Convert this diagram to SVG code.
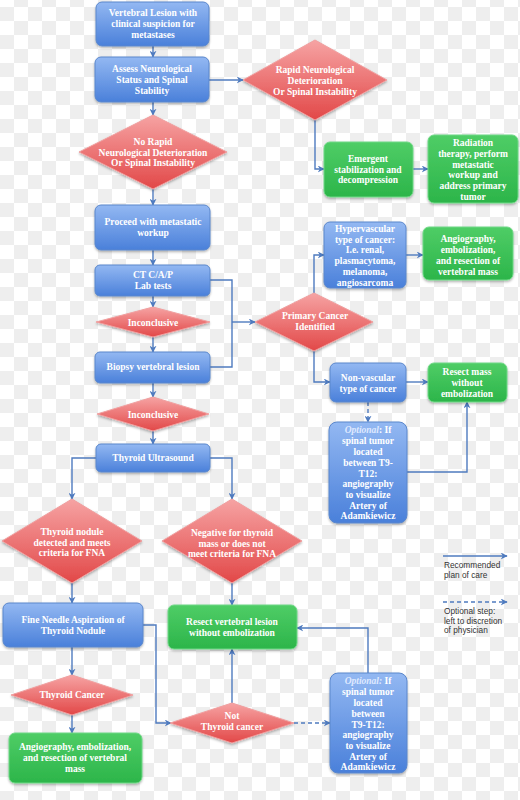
<svg xmlns="http://www.w3.org/2000/svg" width="520" height="800" viewBox="0 0 520 800">
<defs>
<pattern id="chk" width="28" height="28" patternUnits="userSpaceOnUse" y="7">
<rect width="28" height="28" fill="#ffffff"/>
<rect width="14" height="14" fill="#eeeeee"/>
<rect x="14" y="14" width="14" height="14" fill="#eeeeee"/>
</pattern>
<linearGradient id="gBlue" x1="0" y1="0" x2="0" y2="1">
<stop offset="0" stop-color="#93b8f2"/>
<stop offset="1" stop-color="#4a80da"/>
</linearGradient>
<linearGradient id="gGreen" x1="0" y1="0" x2="0" y2="1">
<stop offset="0" stop-color="#4fcd66"/>
<stop offset="1" stop-color="#2cb54a"/>
</linearGradient>
<linearGradient id="gRed" x1="0" y1="0" x2="0" y2="1">
<stop offset="0" stop-color="#f6a3a3"/>
<stop offset="1" stop-color="#e24848"/>
</linearGradient>
<filter id="sh" x="-10%" y="-10%" width="120%" height="130%">
<feDropShadow dx="0" dy="1.5" stdDeviation="1.2" flood-color="#000" flood-opacity="0.3"/>
</filter>
<marker id="ar" viewBox="0 0 10 10" refX="9" refY="5" markerWidth="7" markerHeight="7" markerUnits="userSpaceOnUse" orient="auto">
<path d="M0,0 L10,5 L0,10 L3,5 Z" fill="#4f7bbf"/>
</marker>
</defs>
<style>
.bx{fill:url(#gBlue);stroke:#5a87cc;stroke-width:1;filter:url(#sh)}
.gr{fill:url(#gGreen);stroke:#6fd886;stroke-width:1;filter:url(#sh)}
.dm{fill:url(#gRed);stroke:#f0a0a0;stroke-width:1;filter:url(#sh)}
.t{font-family:"Liberation Serif","DejaVu Serif",serif;font-weight:bold;font-size:9.5px;fill:#ffffff;text-anchor:middle}
.c{fill:none;stroke:#4f7bbf;stroke-width:1.4}
.ca{fill:none;stroke:#4f7bbf;stroke-width:1.4;marker-end:url(#ar)}
.cd{fill:none;stroke:#4f7bbf;stroke-width:1.4;stroke-dasharray:4 3;marker-end:url(#ar)}
.lg{font-family:"Liberation Sans","DejaVu Sans",sans-serif;font-size:8.3px;fill:#333333}
</style>
<rect width="520" height="800" fill="url(#chk)"/>

<g id="connectors">
<path class="ca" d="M153,46 V57"/>
<path class="ca" d="M209,80 H243"/>
<path class="ca" d="M153,102 V115"/>
<path class="ca" d="M315,120 V169 H324"/>
<path class="ca" d="M413,169 H428"/>
<path class="ca" d="M153,189 V205"/>
<path class="ca" d="M153,250 V265"/>
<path class="ca" d="M153,296 V307"/>
<path class="ca" d="M153,337 V352"/>
<path class="c" d="M210,280 H232 V367 H210"/>
<path class="ca" d="M232,322 H255"/>
<path class="ca" d="M314,293 V255 H324"/>
<path class="ca" d="M406,255 H423"/>
<path class="ca" d="M314,351 V382 H330"/>
<path class="ca" d="M406,382 H428"/>
<path class="cd" d="M368,402 V422"/>
<path class="ca" d="M407,472 H467 V402"/>
<path class="ca" d="M153,383 V397"/>
<path class="ca" d="M153,431 V444"/>
<path class="ca" d="M96,458 H72 V499"/>
<path class="ca" d="M210,458 H232 V499"/>
<path class="ca" d="M72,583 V603"/>
<path class="ca" d="M232,583 V605"/>
<path class="ca" d="M72,647 V675"/>
<path class="ca" d="M72,715 V733"/>
<path class="ca" d="M143,625 H156 V723 H171"/>
<path class="ca" d="M232,703 V649"/>
<path class="cd" d="M294,723 H330"/>
<path class="ca" d="M368,673 V628 H297"/>
</g>

<g id="n1"><rect class="bx" x="96" y="2" width="113" height="44" rx="6"/>
<text class="t" x="153" y="16.3">Vertebral Lesion with</text><text class="t" x="153" y="27.3">clinical suspicion for</text><text class="t" x="153" y="38.3">metastases</text></g>

<g id="n2"><rect class="bx" x="95" y="57" width="114" height="45" rx="6"/>
<text class="t" x="152" y="72.3">Assess Neurological</text><text class="t" x="152" y="83.3">Status and Spinal</text><text class="t" x="152" y="94.3">Stability</text></g>

<g id="d_rapid"><polygon class="dm" points="315,40 387,80 315,120 243,80"/>
<text class="t" x="315" y="73.3">Rapid Neurological</text><text class="t" x="315" y="84.3">Deterioration</text><text class="t" x="315" y="94.8">Or Spinal Instability</text></g>

<g id="n_emergent"><rect class="gr" x="324" y="142" width="89" height="55" rx="6"/>
<text class="t" x="368" y="162.3">Emergent</text><text class="t" x="368" y="172.8">stabilization and</text><text class="t" x="368" y="183.3">decompression</text></g>

<g id="n_radiation"><rect class="gr" x="428" y="135" width="90" height="68" rx="6"/>
<text class="t" x="473" y="146.3">Radiation</text><text class="t" x="473" y="157.3">therapy, perform</text><text class="t" x="473" y="167.8">metastatic</text><text class="t" x="473" y="178.3">workup and</text><text class="t" x="473" y="189">address primary</text><text class="t" x="473" y="199.5">tumor</text></g>

<g id="d_norapid"><polygon class="dm" points="153,115 227,152 153,189 79,152"/>
<text class="t" x="153" y="145.3">No Rapid</text><text class="t" x="153" y="155.8">Neurological Deterioration</text><text class="t" x="153" y="166.3">Or Spinal Instability</text></g>

<g id="n_proceed"><rect class="bx" x="95" y="205" width="115" height="45" rx="6"/>
<text class="t" x="153" y="225.3">Proceed with metastatic</text><text class="t" x="153" y="236.3">workup</text></g>

<g id="n_ct"><rect class="bx" x="95" y="265" width="115" height="31" rx="5"/>
<text class="t" x="153" y="278.3">CT C/A/P</text><text class="t" x="153" y="289.3">Lab tests</text></g>

<g id="d_inc1"><polygon class="dm" points="153,307 210,322 153,337 96,322"/>
<text class="t" x="153" y="325.5">Inconclusive</text></g>

<g id="n_biopsy"><rect class="bx" x="95" y="352" width="115" height="31" rx="5"/>
<text class="t" x="153" y="370.3">Biopsy vertebral lesion</text></g>

<g id="d_primary"><polygon class="dm" points="314,293 373,322 314,351 255,322"/>
<text class="t" x="315" y="319.3">Primary Cancer</text><text class="t" x="315" y="329.8">Identified</text></g>

<g id="n_hyper"><rect class="bx" x="324" y="222" width="82" height="66" rx="6"/>
<text class="t" x="365" y="231.6">Hypervascular</text><text class="t" x="365" y="242.6">type  of cancer:</text><text class="t" x="365" y="253.3">I.e. renal,</text><text class="t" x="365" y="264">plasmacytoma,</text><text class="t" x="365" y="275">melanoma,</text><text class="t" x="365" y="285.6">angiosarcoma</text></g>

<g id="n_angio1"><rect class="gr" x="423" y="227" width="90" height="53" rx="6"/>
<text class="t" x="468" y="242.3">Angiography,</text><text class="t" x="468" y="253.3">embolization,</text><text class="t" x="468" y="264.3">and resection of</text><text class="t" x="468" y="275.3">vertebral mass</text></g>

<g id="n_nonvasc"><rect class="bx" x="330" y="363" width="76" height="39" rx="6"/>
<text class="t" x="368" y="381.3">Non-vascular</text><text class="t" x="368" y="391.8">type of cancer</text></g>

<g id="n_resectmass"><rect class="gr" x="428" y="363" width="79" height="39" rx="6"/>
<text class="t" x="467" y="375.3">Resect mass</text><text class="t" x="467" y="386.3">without</text><text class="t" x="467" y="397">embolization</text></g>

<g id="n_opt1"><rect class="bx" x="329" y="422" width="78" height="101" rx="8"/>
<text class="t" x="368" y="433.3"><tspan font-style="italic" fill="#dfe9ff">Optional</tspan>: If</text><text class="t" x="368" y="444.3">spinal tumor</text><text class="t" x="368" y="455">located</text><text class="t" x="368" y="466">between T9-</text><text class="t" x="368" y="476.6">T12:</text><text class="t" x="368" y="487.3">angiography</text><text class="t" x="368" y="498">to visualize</text><text class="t" x="368" y="508.6">Artery of</text><text class="t" x="368" y="519.3">Adamkiewicz</text></g>

<g id="d_inc2"><polygon class="dm" points="153,397 209,414 153,431 97,414"/>
<text class="t" x="153" y="417.5">Inconclusive</text></g>

<g id="n_thyroidus"><rect class="bx" x="96" y="444" width="114" height="28" rx="5"/>
<text class="t" x="153" y="461.3">Thyroid Ultrasound</text></g>

<g id="d_nodule"><polygon class="dm" points="72,499 142,541 72,583 2,541"/>
<text class="t" x="72" y="535.3">Thyroid nodule</text><text class="t" x="72" y="545.8">detected and meets</text><text class="t" x="72" y="556.3">criteria for FNA</text></g>

<g id="d_negative"><polygon class="dm" points="232,499 302,541 232,583 162,541"/>
<text class="t" x="232" y="536.3">Negative for thyroid</text><text class="t" x="232" y="546.8">mass or does not</text><text class="t" x="232" y="557.3">meet criteria for FNA</text></g>

<g id="n_fna"><rect class="bx" x="3" y="603" width="140" height="44" rx="6"/>
<text class="t" x="73" y="623.3">Fine Needle Aspiration of</text><text class="t" x="73" y="634.3">Thyroid Nodule</text></g>

<g id="n_resectlesion"><rect class="gr" x="168" y="605" width="129" height="44" rx="6"/>
<text class="t" x="232" y="625.3">Resect vertebral lesion</text><text class="t" x="232" y="636.3">without embolization</text></g>

<g id="d_thyroidca"><polygon class="dm" points="72,675 133,695 72,715 11,695"/>
<text class="t" x="72" y="698.3">Thyroid Cancer</text></g>

<g id="d_notthyroid"><polygon class="dm" points="232,703 294,723 232,743 170,723"/>
<text class="t" x="232" y="719.3">Not</text><text class="t" x="232" y="730.3">Thyroid cancer</text></g>

<g id="n_angio2"><rect class="gr" x="9" y="733" width="133" height="50" rx="6"/>
<text class="t" x="75" y="750.3">Angiography, embolization,</text><text class="t" x="75" y="761.3">and resection of vertebral</text><text class="t" x="75" y="772.3">mass</text></g>

<g id="n_opt2"><rect class="bx" x="330" y="673" width="77" height="100" rx="8"/>
<text class="t" x="368" y="684.3"><tspan font-style="italic" fill="#dfe9ff">Optional:</tspan> If</text><text class="t" x="368" y="695.3">spinal tumor</text><text class="t" x="368" y="706">located</text><text class="t" x="368" y="717">between</text><text class="t" x="368" y="727.6">T9-T12:</text><text class="t" x="368" y="738.3">angiography</text><text class="t" x="368" y="749">to visualize</text><text class="t" x="368" y="759.6">Artery of</text><text class="t" x="368" y="770.3">Adamkiewicz</text></g>

<g id="legend">
<path class="ca" d="M443,556 H507"/>
<text class="lg" x="444" y="568">Recommended</text><text class="lg" x="444" y="577.5">plan of care</text>
<path class="cd" d="M443,602 H507"/>
<text class="lg" x="444" y="614">Optional step:</text><text class="lg" x="444" y="623.5">left to discretion</text><text class="lg" x="444" y="633">of physician</text>
</g>
</svg>
